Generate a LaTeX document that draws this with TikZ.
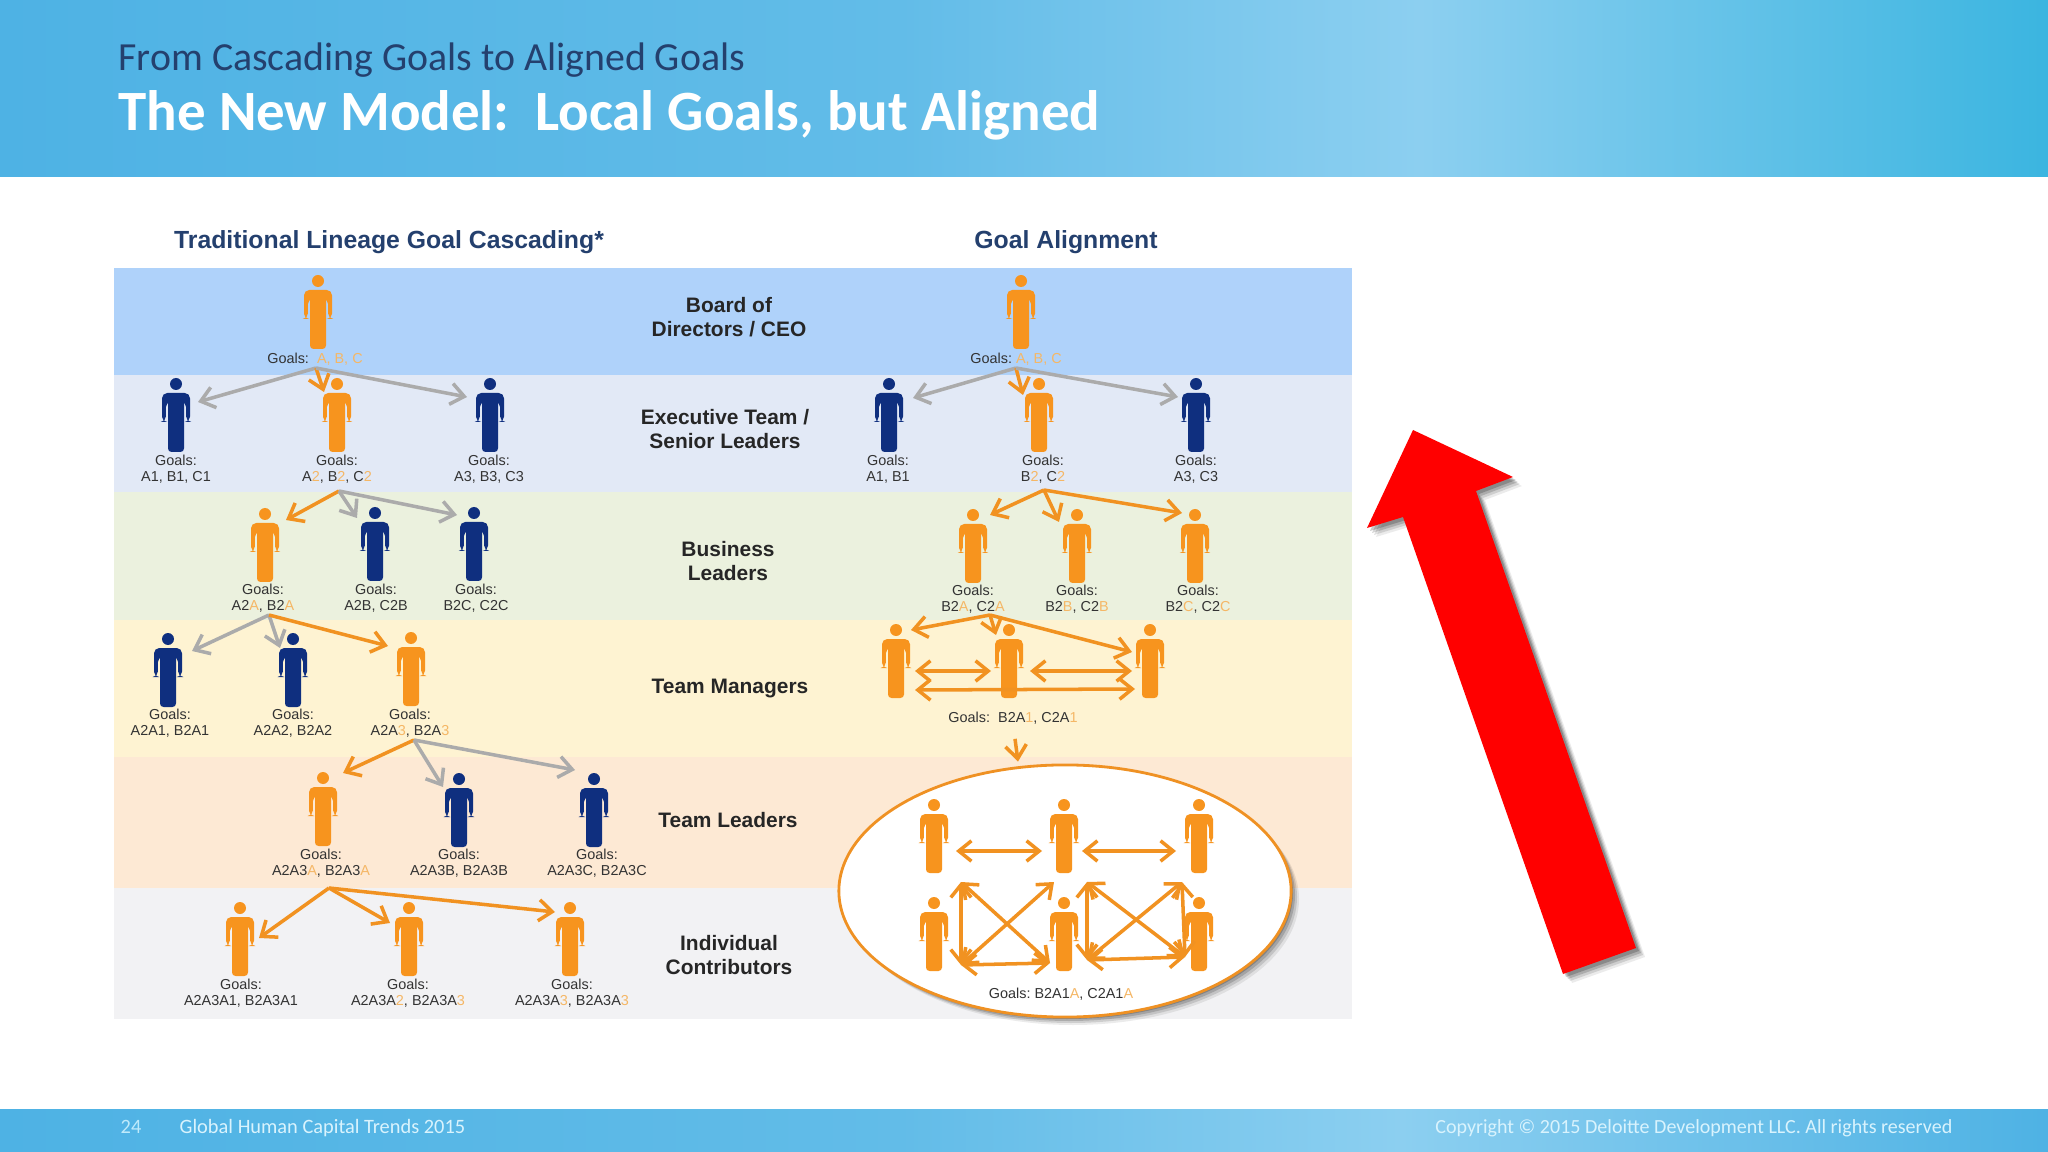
\documentclass[tikz,border=0pt]{standalone}
\usepackage{fontspec}
\setmainfont{Liberation Sans}
\newfontfamily\slidefont{Carlito}
\usepackage{tikz}
\usetikzlibrary{arrows.meta, shapes.geometric}
\definecolor{navy}{HTML}{0F2F7F}
\definecolor{amber}{HTML}{F7941E}
\definecolor{hint}{HTML}{F5B766}
\definecolor{ashgrey}{HTML}{ABABAB}
\definecolor{headline}{HTML}{24406E}
\definecolor{skyleft}{HTML}{4EB2E4}
\definecolor{skyhalf}{HTML}{62BCE8}
\definecolor{skymid}{HTML}{8CCFF0}
\definecolor{skyright}{HTML}{3BB5E0}
\tikzstyle{greyarrow} = [line width=1pt,color=ashgrey,-{Straight Barb[length=3.8pt,width=6pt]}]
\tikzstyle{amberarrow} = [line width=1pt,color=amber!90!brown,-{Straight Barb[length=3.8pt,width=6pt]}]
\tikzstyle{twoway} = [line width=1pt,color=amber!90!brown,{Straight Barb[length=3.6pt,width=5.8pt]}-{Straight Barb[length=3.6pt,width=5.8pt]}]
\tikzstyle{goal} = [align=center,inner sep=0pt,font=\fontsize{4.1}{4.65}\selectfont,color=black!80]
\tikzstyle{level} = [align=center,inner sep=0pt,font=\fontsize{5.95}{6.7}\selectfont\bfseries,color=black!85]
\tikzstyle{coltitle} = [inner sep=0pt,font=\fontsize{7.05}{8}\selectfont\bfseries,color=headline]
\newcommand{\og}[1]{\textcolor{hint}{#1}}
% person figure: name, x, y of the middle, colour
\newcommand{\person}[4]{
  \node[minimum width=.28cm, minimum height=.74cm, inner sep=0pt] (#1) at (#2,#3) {};
  \begin{scope}[shift={(#2,#3)}]
    \fill[#4] (0,-31) circle[radius=6];
    \fill[#4,rounded corners=1.5pt] (-14,7) -- (-14,-22) -- (14,-22) -- (14,7) -- (10.2,7) -- (10.2,-13) -- (-10.2,-13) -- (-10.2,7) -- cycle;
    \fill[#4,rounded corners=1pt] (-8,-20) rectangle (8,37);
  \end{scope}
}
\begin{document}
\begin{tikzpicture}[x=0.01cm,y=-0.01cm]
  \useasboundingbox (0,0) rectangle (2048,1152);
  \fill[white] (0,0) rectangle (2048,1152);

  % Header and footer
  \shade[left color=skyleft,right color=skyhalf] (0,0) rectangle (900,177);
  \shade[left color=skyhalf,right color=skymid] (900,0) rectangle (1420,177);
  \shade[left color=skymid,right color=skyright] (1420,0) rectangle (2048,177);
  \shade[left color=skyleft,right color=skyhalf] (0,1109) rectangle (900,1152);
  \shade[left color=skyhalf,right color=skymid] (900,1109) rectangle (1400,1152);
  \shade[left color=skymid,right color=skyleft] (1400,1109) rectangle (2048,1152);
  \node[anchor=base west,inner sep=0pt,font=\slidefont\fontsize{11.33}{13}\selectfont,color=headline] (subtitle) at (118,71) {From Cascading Goals to Aligned Goals};
  \node[anchor=base west,inner sep=0pt,font=\slidefont\fontsize{16.2}{18}\selectfont\bfseries,color=white] (title) at (118,131) {The New Model:\ \ Local Goals, but Aligned};
  \node[anchor=base west,inner sep=0pt,font=\slidefont\fontsize{5.8}{6}\selectfont,color=white!75!cyan] (pageno) at (120,1133) {24};
  \node[anchor=base west,inner sep=0pt,font=\slidefont\fontsize{5.8}{6}\selectfont,color=white!85!cyan] (deck) at (179,1133) {Global Human Capital Trends 2015};
  \node[anchor=base east,inner sep=0pt,font=\slidefont\fontsize{5.7}{6}\selectfont,color=white!85!cyan] (copy) at (1953,1133) {Copyright © 2015 Deloitte Development LLC. All rights reserved};

  % Level bands
  \fill[fill={rgb,255:red,175;green,210;blue,250}] (114,268) rectangle (1352,375);
  \fill[fill={rgb,255:red,226;green,233;blue,246}] (114,375) rectangle (1352,492);
  \fill[fill={rgb,255:red,235;green,241;blue,222}] (114,492) rectangle (1352,620);
  \fill[fill={rgb,255:red,254;green,243;blue,210}] (114,620) rectangle (1352,757);
  \fill[fill={rgb,255:red,253;green,233;blue,212}] (114,757) rectangle (1352,888);
  \fill[fill={rgb,255:red,242;green,242;blue,244}] (114,888) rectangle (1352,1019);

  % Column titles and level names
  \node[coltitle] (lefthead) at (389,242) {Traditional Lineage Goal Cascading*};
  \node[coltitle] (righthead) at (1066,242) {Goal Alignment};
  \node[level] (board) at (729,317) {Board of\\Directors / CEO};
  \node[level] (exec) at (725,429) {Executive Team /\\Senior Leaders};
  \node[level] (biz) at (728,561) {Business\\Leaders};
  \node[level] (mgr) at (730,689) {Team Managers};
  \node[level] (lead) at (728,820) {Team Leaders};
  \node[level] (indiv) at (729,955) {Individual\\Contributors};

  % Traditional cascading
  \person{lb}{318}{312}{amber}
  \person{le1}{176}{415}{navy}
  \person{le2}{337}{415}{amber}
  \person{le3}{490}{415}{navy}
  \person{lz1}{265}{545}{amber}
  \person{lz2}{375}{544}{navy}
  \person{lz3}{474}{544}{navy}
  \person{lm1}{168}{670}{navy}
  \person{lm2}{293}{670}{navy}
  \person{lm3}{411}{669}{amber}
  \person{ll1}{323}{809}{amber}
  \person{ll2}{459}{810}{navy}
  \person{ll3}{594}{810}{navy}
  \person{li1}{240}{939}{amber}
  \person{li2}{409}{939}{amber}
  \person{li3}{570}{939}{amber}

  \node[goal] (lbg) at (315,359) {Goals:\ \ \og{A, B, C}};
  \node[goal] (le1g) at (176,469) {Goals:\\A1, B1, C1};
  \node[goal] (le2g) at (337,469) {Goals:\\A\og{2}, B\og{2}, C\og{2}};
  \node[goal] (le3g) at (489,469) {Goals:\\A3, B3, C3};
  \node[goal] (lz1g) at (263,598) {Goals:\\A2\og{A}, B2\og{A}};
  \node[goal] (lz2g) at (376,598) {Goals:\\A2B, C2B};
  \node[goal] (lz3g) at (476,598) {Goals:\\B2C, C2C};
  \node[goal] (lm1g) at (170,723) {Goals:\\A2A1, B2A1};
  \node[goal] (lm2g) at (293,723) {Goals:\\A2A2, B2A2};
  \node[goal] (lm3g) at (410,723) {Goals:\\A2A\og{3}, B2A\og{3}};
  \node[goal] (ll1g) at (321,863) {Goals:\\A2A3\og{A}, B2A3\og{A}};
  \node[goal] (ll2g) at (459,863) {Goals:\\A2A3B, B2A3B};
  \node[goal] (ll3g) at (597,863) {Goals:\\A2A3C, B2A3C};
  \node[goal] (li1g) at (241,993) {Goals:\\A2A3A1, B2A3A1};
  \node[goal] (li2g) at (408,993) {Goals:\\A2A3A\og{2}, B2A3A\og{3}};
  \node[goal] (li3g) at (572,993) {Goals:\\A2A3A\og{3}, B2A3A\og{3}};

  \coordinate (fanl1) at (316,368);
  \coordinate (fanl2) at (339,491);
  \coordinate (fanl3) at (269,615);
  \coordinate (fanl4) at (414,740);
  \coordinate (fanl5) at (329,888);
  \draw[greyarrow] (fanl1) -- ([shift={(22,-13)}]le1.center);
  \draw[amberarrow] (fanl1) -- ([shift={(-13,-23)}]le2.center);
  \draw[greyarrow] (fanl1) -- ([shift={(-23,-18)}]le3.center);
  \draw[amberarrow] (fanl2) -- ([shift={(21,-25)}]lz1.center);
  \draw[greyarrow] (fanl2) -- ([shift={(-18,-26)}]lz2.center);
  \draw[greyarrow] (fanl2) -- ([shift={(-17,-29)}]lz3.center);
  \draw[greyarrow] (fanl3) -- ([shift={(24,-19)}]lm1.center);
  \draw[greyarrow] (fanl3) -- ([shift={(-13,-22)}]lm2.center);
  \draw[amberarrow] (fanl3) -- ([shift={(-23,-23)}]lm3.center);
  \draw[amberarrow] (fanl4) -- ([shift={(20,-36)}]ll1.center);
  \draw[greyarrow] (fanl4) -- ([shift={(-16,-23)}]ll2.center);
  \draw[greyarrow] (fanl4) -- ([shift={(-19,-40)}]ll3.center);
  \draw[amberarrow] (fanl5) -- ([shift={(19,-1)}]li1.center);
  \draw[amberarrow] (fanl5) -- ([shift={(-19,-16)}]li2.center);
  \draw[amberarrow] (fanl5) -- ([shift={(-15,-27)}]li3.center);

  % Goal alignment
  \person{rb}{1021}{312}{amber}
  \person{re1}{889}{415}{navy}
  \person{re2}{1039}{415}{amber}
  \person{re3}{1196}{415}{navy}
  \person{rz1}{973}{546}{amber}
  \person{rz2}{1077}{546}{amber}
  \person{rz3}{1195}{546}{amber}
  \person{rm1}{896}{661}{amber}
  \person{rm2}{1009}{661}{amber}
  \person{rm3}{1150}{661}{amber}

  \node[goal] (rbg) at (1016,359) {Goals:\ \og{A, B, C}};
  \node[goal] (re1g) at (888,469) {Goals:\\A1, B1};
  \node[goal] (re2g) at (1043,469) {Goals:\\B\og{2}, C\og{2}};
  \node[goal] (re3g) at (1196,469) {Goals:\\A3, C3};
  \node[goal] (rz1g) at (973,599) {Goals:\\B2\og{A}, C2\og{A}};
  \node[goal] (rz2g) at (1077,599) {Goals:\\B2\og{B}, C2\og{B}};
  \node[goal] (rz3g) at (1198,599) {Goals:\\B2\og{C}, C2\og{C}};
  \node[goal] (rmg) at (1013,718) {Goals:\ \ B2A\og{1}, C2A\og{1}};

  \coordinate (fanr1) at (1016,368);
  \coordinate (fanr2) at (1044,490);
  \coordinate (fanr3) at (990,615);
  \draw[greyarrow] (fanr1) -- ([shift={(24,-17)}]re1.center);
  \draw[amberarrow] (fanr1) -- ([shift={(-16,-20)}]re2.center);
  \draw[greyarrow] (fanr1) -- ([shift={(-18,-18)}]re3.center);
  \draw[amberarrow] (fanr2) -- ([shift={(17,-31)}]rz1.center);
  \draw[amberarrow] (fanr2) -- ([shift={(-18,-24)}]rz2.center);
  \draw[amberarrow] (fanr2) -- ([shift={(-13,-33)}]rz3.center);
  \draw[amberarrow] (fanr3) -- ([shift={(15,-31)}]rm1.center);
  \draw[amberarrow] (fanr3) -- ([shift={(-13,-26)}]rm2.center);
  \draw[amberarrow] (fanr3) -- ([shift={(-18,-9)}]rm3.center);
  \draw[twoway] ([shift={(19,10)}]rm1.center) -- ([shift={(-18,10)}]rm2.center);
  \draw[twoway] ([shift={(21,10)}]rm2.center) -- ([shift={(-18,10)}]rm3.center);
  \draw[twoway] ([shift={(19,29)}]rm1.center) -- ([shift={(-15,28)}]rm3.center);

  % Shared team circle
  \foreach \off/\op in {8/.08,6/.12,4/.16,2/.2}
    \fill[black,opacity=\op] (1065+\off,891+\off) ellipse[x radius=226,y radius=126];
  \node[draw=amber!85!brown,line width=.8pt,fill=white,ellipse,minimum width=4.52cm,minimum height=2.52cm,inner sep=0pt] (team) at (1065,891) {};
  \draw[amberarrow] ([shift={(2,14)}]rmg.south) -- ([shift={(-47,-2)}]team.north);

  \person{ra1}{934}{836}{amber}
  \person{ra2}{1064}{836}{amber}
  \person{ra3}{1199}{836}{amber}
  \person{rc1}{934}{934}{amber}
  \person{rc2}{1064}{934}{amber}
  \person{rc3}{1199}{934}{amber}
  \node[goal] (teamg) at (1061,994) {Goals:\ B2A1\og{A}, C2A1\og{A}};

  \draw[twoway] ([shift={(22,15)}]ra1.center) -- ([shift={(-22,15)}]ra2.center);
  \draw[twoway] ([shift={(18,15)}]ra2.center) -- ([shift={(-23,15)}]ra3.center);
  \coordinate (xa) at (961,882);
  \coordinate (xb) at (1054,882);
  \coordinate (xc) at (961,965);
  \coordinate (xd) at (1050,963);
  \coordinate (xe) at (1087,882);
  \coordinate (xf) at (1182,882);
  \coordinate (xg) at (1087,960);
  \coordinate (xh) at (1185,957);
  \draw[twoway] (xa) -- (xc);
  \draw[twoway] (xa) -- (xd);
  \draw[twoway] (xb) -- (xc);
  \draw[twoway] (xc) -- (xd);
  \draw[twoway] (xe) -- (xg);
  \draw[twoway] (xe) -- (xh);
  \draw[twoway] (xf) -- (xg);
  \draw[twoway] (xf) -- (xh);
  \draw[twoway] (xg) -- (xh);

  % Red arrow
  \foreach \off/\op in {9/.08,7/.12,5/.16,3/.2}
    \fill[black,opacity=\op,shift={(\off,\off)}] (1413,430) -- (1513,477) -- (1476,491) -- (1636,948) -- (1563,974) -- (1403,517) -- (1367,528) -- cycle;
  \fill[red] (1413,430) -- (1513,477) -- (1476,491) -- (1636,948) -- (1563,974) -- (1403,517) -- (1367,528) -- cycle;
\end{tikzpicture}
\end{document}
